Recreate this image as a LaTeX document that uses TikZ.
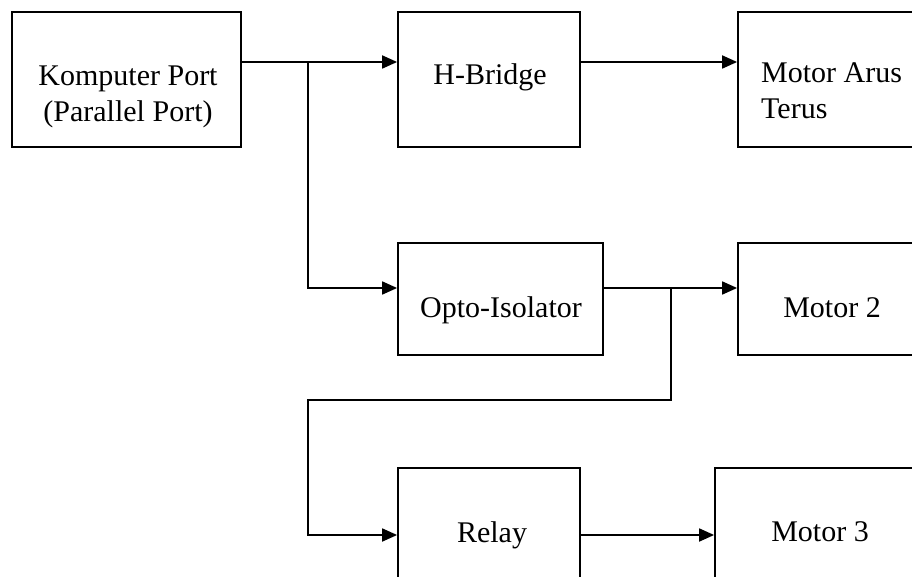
\documentclass[tikz,border=0pt]{standalone}
\usepackage{fontspec}
\setmainfont{Liberation Serif}
\usetikzlibrary{arrows.meta}
\begin{document}
\begin{tikzpicture}[x=1pt,y=-1pt,
  box/.style={draw=black,line width=1.8pt,rectangle,inner sep=0pt},
  lbl/.style={inner sep=0pt,font=\fontsize{30}{36}\selectfont},
  arr/.style={line width=1.8pt,-{Triangle[length=15pt,width=13pt]}},
  wire/.style={line width=1.8pt}]
\useasboundingbox (0,0) rectangle (912,577);
\clip (0,0) rectangle (912,577);
\fill[white] (0,0) rectangle (912,577);
% boxes
\node[box,minimum width=229pt,minimum height=135pt] (kp) at (126.5,79.5) {};
\node[box,minimum width=182pt,minimum height=135pt] (hb) at (489,79.5) {};
\node[box,minimum width=192pt,minimum height=135pt] (ma) at (834,79.5) {};
\node[box,minimum width=205pt,minimum height=112pt] (op) at (500.5,299) {};
\node[box,minimum width=192pt,minimum height=112pt] (m2) at (834,299) {};
\node[box,minimum width=182pt,minimum height=137pt] (rl) at (489,536.5) {};
\node[box,minimum width=215pt,minimum height=137pt] (m3) at (822.5,536.5) {};
% texts
\node[lbl,anchor=base,align=center] (kpt) at (128,122) {Komputer Port\\(Parallel Port)};
\node[lbl,anchor=base] (hbt) at (490,85) {H-Bridge};
\node[lbl,anchor=base west,align=left] (mat) at (761,119) {Motor Arus\\Terus};
\node[lbl,anchor=base] (opt) at (501,317) {Opto-Isolator};
\node[lbl,anchor=base] (m2t) at (832,317) {Motor 2};
\node[lbl,anchor=base] (rlt) at (492,542) {Relay};
\node[lbl,anchor=base] (m3t) at (820,541) {Motor 3};
% junctions
\coordinate (j1) at (308,62);
\coordinate (j2) at (671,288);
\coordinate (b1) at (308,400);
\coordinate (r1) at (0,535);
% connectors
\draw[arr] (kp.east |- j1) -- (hb.west |- j1);
\draw[arr] (hb.east |- j1) -- (ma.west |- j1);
\draw[arr] (j1) |- (op.west |- j2);
\draw[arr] (op.east |- j2) -- (m2.west |- j2);
\draw[arr] (j2) |- (b1) |- (rl.west |- r1);
\draw[arr] (rl.east |- r1) -- (m3.west |- r1);
\end{tikzpicture}
\end{document}
